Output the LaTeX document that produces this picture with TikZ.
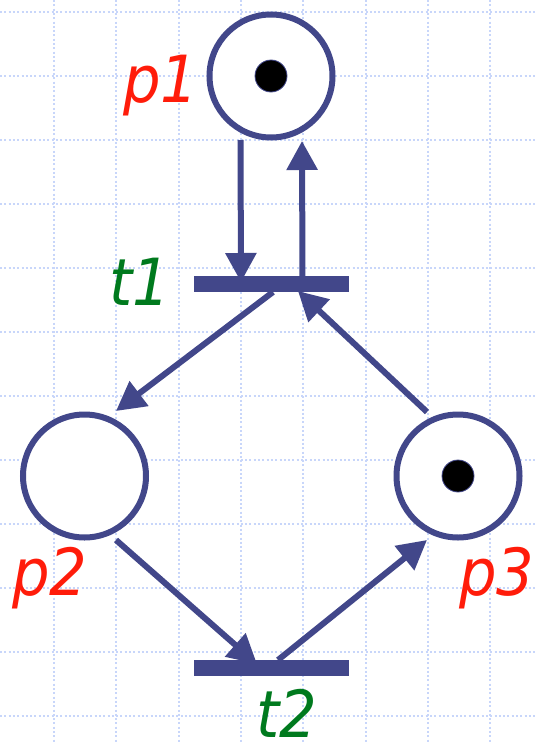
\documentclass[tikz,border=0pt]{standalone}
\usepackage{fontspec}
\newfontfamily\labfont{DejaVu Sans}
\usetikzlibrary{arrows.meta}
\definecolor{navy}{RGB}{66,71,138}
\definecolor{gridblue}{RGB}{200,214,250}
\definecolor{plred}{RGB}{255,28,10}
\definecolor{tlgreen}{RGB}{0,122,30}
\newcommand{\labtext}[1]{\scalebox{0.91}[1]{#1}}
\tikzset{
  place/.style={circle, draw=navy, line width=6pt, fill=white, minimum size=123pt, inner sep=0pt},
  token/.style={circle, draw=navy, line width=0.8pt, fill=black, minimum size=32pt, inner sep=0pt},
  trans/.style={rectangle, fill=navy, draw=none, minimum width=155pt, minimum height=16pt, inner sep=0pt},
  arc/.style={draw=navy, line width=6pt, -{Triangle[length=29pt,width=30pt]}},
  plabel/.style={text=plred, font=\labfont\itshape\fontsize{65}{65}\selectfont, inner sep=0pt, anchor=base},
  tlabel/.style={text=tlgreen, font=\labfont\itshape\fontsize{65}{65}\selectfont, inner sep=0pt, anchor=base, text depth=0pt},
  gridline/.style={draw=gridblue, line width=2pt, dash pattern=on 2pt off 2.3pt}
}
\begin{document}
\begin{tikzpicture}[x=1pt,y=-1pt]
\useasboundingbox[fill=white] (0,0) rectangle (537,744);
% grid
\foreach \gx in {0,...,7}{
  \draw[gridline] ({54+62.3*\gx},0) -- ({54+62.3*\gx},744);
}
\foreach \gy in {0,...,11}{
  \draw[gridline] (0,{12+64*\gy}) -- (537,{12+64*\gy});
}
% places and transitions
\node[place] (p1) at (271,76) {};
\node[place] (p2) at (84.5,476) {};
\node[place] (p3) at (458,476) {};
\node[token] (k1) at (p1.center) {};
\node[token] (k3) at (p3.center) {};
\node[trans] (t1) at (271.5,284) {};
\node[trans] (t2) at (271.5,668) {};
% arcs
\draw[arc] ([xshift=-30.5pt,yshift=-64pt]p1.center) -- ([xshift=-30.5pt,yshift=2pt]t1.center);
\draw[arc] ([xshift=31pt]t1.center) -- ([xshift=31pt,yshift=-65pt]p1.center);
\draw[arc] ([xshift=1.5pt,yshift=-8pt]t1.center) -- ([xshift=31.5pt,yshift=65pt]p2.center);
\draw[arc] ([xshift=-31pt,yshift=64pt]p3.center) -- ([xshift=26.5pt,yshift=-7pt]t1.center);
\draw[arc] ([xshift=31.5pt,yshift=-64pt]p2.center) -- ([xshift=-14.5pt,yshift=4pt]t2.center);
\draw[arc] ([xshift=6.5pt,yshift=8pt]t2.center) -- ([xshift=-31pt,yshift=-64pt]p3.center);
% labels
\node[plabel] (lp1) at (161,102) {\labtext{p1}};
\node[tlabel] (lt1) at (140,305) {\labtext{t1}};
\node[plabel] (lp2) at (50,595) {\labtext{p2}};
\node[plabel] (lp3) at (497,595) {\labtext{p3}};
\node[tlabel] (lt2) at (287,737) {\labtext{t2}};
\end{tikzpicture}
\end{document}
